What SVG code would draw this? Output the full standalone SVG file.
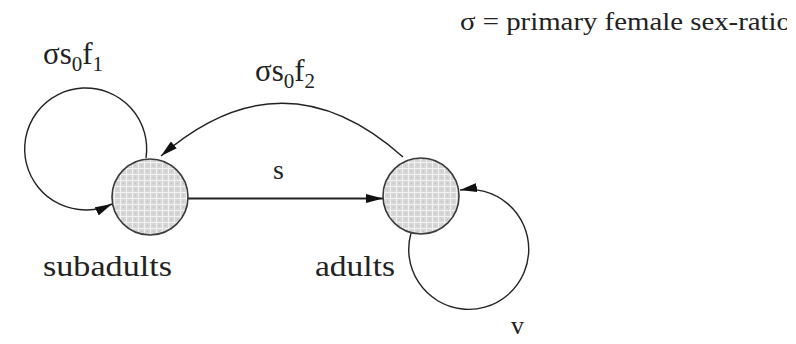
<svg xmlns="http://www.w3.org/2000/svg" width="796" height="344" viewBox="0 0 796 344">
<style>
.node{stroke:#3a3a3a;stroke-width:1.6;fill:url(#tex)}
.lbl{font-family:"Liberation Serif","Times New Roman",serif;fill:#222}
.edge{fill:none;stroke:#222;stroke-width:1.4}
.thick{stroke-width:2.2}
</style>
<defs>
<pattern id="tex" width="6" height="6" patternUnits="userSpaceOnUse">
<rect width="6" height="6" fill="#d6d6d6"/>
<path d="M0,0.5H6M0.5,0V6" stroke="#f2f2f2" stroke-width="1"/>
<rect x="3" y="3" width="1" height="1" fill="#bbbbbb"/>
</pattern>
<marker id="ah" markerUnits="userSpaceOnUse" markerWidth="18" markerHeight="10" refX="17" refY="5" orient="auto">
<path d="M0,0.5 L17,5 L0,9.5 z" fill="#111"/>
</marker>
<clipPath id="clipR"><rect x="0" y="0" width="787" height="344"/></clipPath>
</defs>

<g id="connectors">
<path id="e-self-sub" class="edge" d="M146,158 A61 61 0 1 0 112,204" marker-end="url(#ah)"/>
<path id="e-adult-sub" class="edge" d="M403,157 Q283,50 161,156" marker-end="url(#ah)"/>
<path id="e-sub-adult" class="edge thick" d="M188,198.5 L383,198.5" marker-end="url(#ah)"/>
<path id="e-self-adult" class="edge" d="M411,233 A60 60 0 1 0 460,190" marker-end="url(#ah)"/>
</g>

<g id="node-subadults">
<circle class="node" cx="150" cy="197" r="38"/>
<text class="lbl" x="43" y="276" font-size="30" textLength="129" lengthAdjust="spacingAndGlyphs">subadults</text>
</g>

<g id="node-adults">
<circle class="node" cx="421" cy="196" r="38"/>
<text class="lbl" x="315" y="276" font-size="30" textLength="80" lengthAdjust="spacingAndGlyphs">adults</text>
</g>

<g id="edge-labels">
<text class="lbl" x="43" y="64" font-size="31">σs<tspan font-size="21" dy="7">0</tspan><tspan dy="-7">f</tspan><tspan font-size="21" dy="7">1</tspan></text>
<text class="lbl" x="255" y="81" font-size="31">σs<tspan font-size="21" dy="7">0</tspan><tspan dy="-7">f</tspan><tspan font-size="21" dy="7">2</tspan></text>
<text class="lbl" x="273" y="179" font-size="28">s</text>
<text class="lbl" x="511" y="334" font-size="26">v</text>
</g>

<g id="legend" clip-path="url(#clipR)">
<text class="lbl" x="460" y="30" font-size="25" textLength="331" lengthAdjust="spacingAndGlyphs">σ = primary female sex-ratio</text>
</g>
</svg>
